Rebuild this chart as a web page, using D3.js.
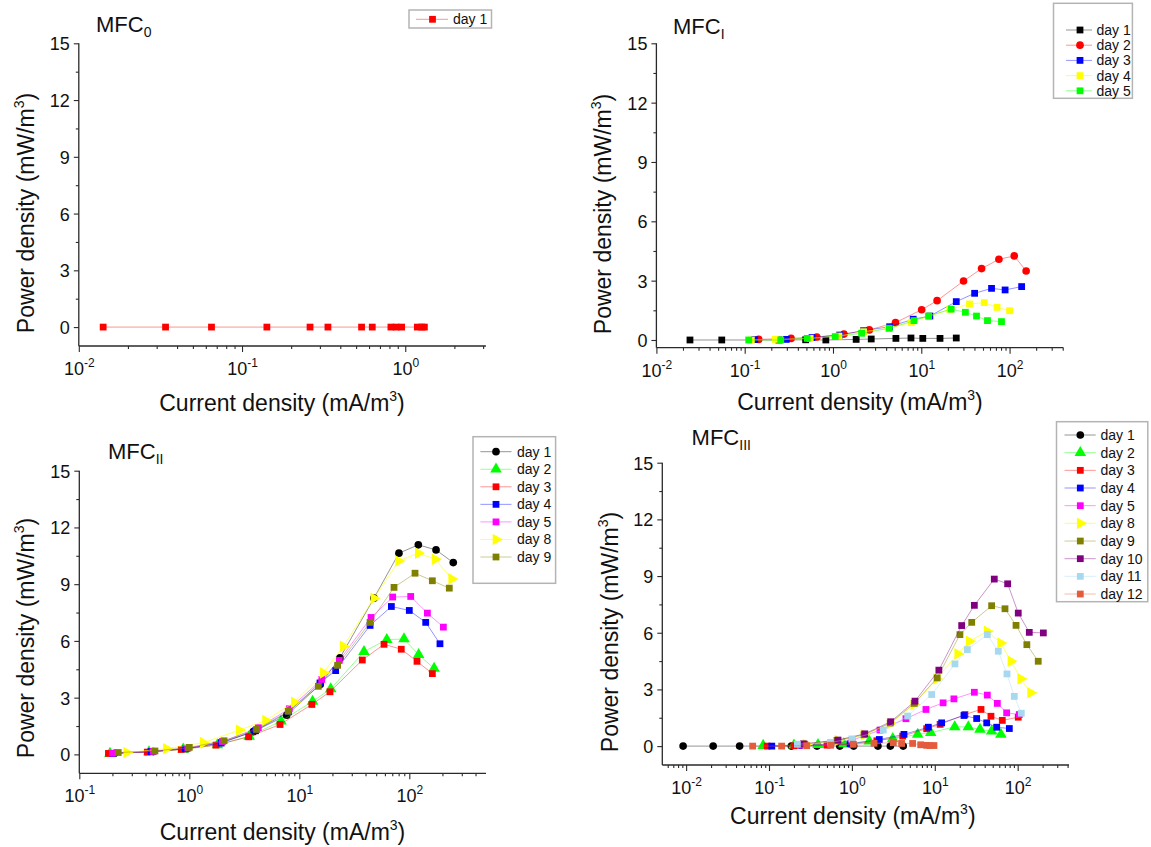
<!DOCTYPE html>
<html><head><meta charset="utf-8">
<script src="https://cdn.jsdelivr.net/npm/d3@7"></script>
<style>
body{margin:0;background:#fff;}
svg text{font-family:"Liberation Sans",Arial,Helvetica,sans-serif;fill:#111;}
</style></head><body>
<svg id="chart" width="1151" height="847"></svg>
<script>
// ---------------- DATA ----------------
const yTickValues = [0, 3, 6, 9, 12, 15];
const yMinorTickValues = [1.5, 4.5, 7.5, 10.5, 13.5];

// MFC0
const mfc0Days = ["day 1"];
const mfc0_day1 = [[0.0141,0],[0.034,0],[0.065,0],[0.142,0],[0.261,0],[0.336,0],[0.54,0],[0.628,0],[0.817,0],[0.879,0],[0.95,0],[1.186,0],[1.262,0],[1.31,0]];

// MFC I
const mfc1Days = ["day 1","day 2","day 3","day 4","day 5"];
const mfc1_day1 = [[0.024,0],[0.055,0],[0.244,0],[0.49,0.01],[0.83,0],[1.83,0.03],[2.71,0.05],[5.16,0.08],[7.64,0.1],[10.4,0.08],[16.3,0.08],[24.9,0.1]];
const mfc1_day2 = [[0.144,0.03],[0.335,0.08],[0.656,0.15],[1.33,0.3],[2.58,0.51],[5.11,0.88],[10.1,1.53],[15.1,1.99],[30.1,2.98],[48.2,3.61],[75.7,4.08],[113,4.25],[154,3.49]];
const mfc1_day3 = [[0.13,0.02],[0.296,0.03],[0.579,0.12],[1.19,0.25],[2.22,0.47],[4.38,0.67],[8.1,1.05],[12.5,1.21],[24.9,1.94],[40.2,2.36],[62.5,2.61],[89,2.53],[137,2.7]];
const mfc1_day4 = [[0.119,0],[0.222,0.03],[0.552,0.08],[1.17,0.2],[2.22,0.42],[4.22,0.59],[7.72,0.88],[12,1.2],[21,1.55],[35.2,1.82],[51.6,1.89],[72.1,1.65],[100,1.48]];
const mfc1_day5 = [[0.111,0],[0.256,0],[0.51,0.08],[1.06,0.17],[2.11,0.34],[4.34,0.59],[8.26,0.98],[12.1,1.21],[21.8,1.56],[31.6,1.4],[42.2,1.21],[56.2,0.98],[81,0.93]];

// MFC II
const mfc2Days = ["day 1","day 2","day 3","day 4","day 5","day 8","day 9"];
const mfc2_day1 = [[0.21,0.06],[0.47,0.15],[0.95,0.3],[1.93,0.62],[3.82,1.2],[7.67,2.07],[15.5,3.7],[23.4,5.1],[47.7,8.26],[80.5,10.64],[120.8,11.08],[175,10.81],[251,10.14]];
const mfc2_day2 = [[0.19,0.05],[0.43,0.13],[0.88,0.27],[1.8,0.5],[3.5,0.95],[6.82,1.76],[13.2,2.8],[19.3,3.46],[38.7,5.43],[62.4,6.07],[89.5,6.1],[121.6,5.27],[168,4.54]];
const mfc2_day3 = [[0.184,0.05],[0.415,0.12],[0.845,0.26],[1.75,0.49],[3.46,0.93],[6.68,1.58],[13,2.64],[19,3.31],[37.4,4.99],[58.9,5.82],[84.5,5.56],[117.5,4.92],[162,4.27]];
const mfc2_day4 = [[0.2,0.05],[0.45,0.15],[0.92,0.3],[1.95,0.6],[4.0,1.25],[8.0,2.25],[15.4,3.78],[21.4,4.43],[44,6.82],[68.7,7.82],[100,7.61],[141,6.98],[190,5.85]];
const mfc2_day5 = [[0.2,0.06],[0.47,0.16],[0.97,0.33],[2.0,0.68],[4.24,1.41],[8.11,2.41],[16,3.96],[23.1,4.97],[44.9,7.24],[70.6,8.32],[103,8.35],[146,7.47],[204,6.73]];
const mfc2_day8 = [[0.27,0.1],[0.62,0.3],[1.34,0.62],[2.85,1.28],[4.94,1.79],[9.02,2.76],[16.5,4.31],[25.1,5.71],[47.7,8.26],[80.1,10.23],[120.8,10.64],[172,10.32],[243,9.28]];
const mfc2_day9 = [[0.226,0.1],[0.487,0.18],[1.0,0.37],[2.07,0.72],[4.09,1.32],[7.94,2.28],[14.9,3.6],[22.3,4.71],[44,6.98],[72.6,8.83],[112.7,9.58],[162,9.18],[231,8.79]];

// MFC III
const mfc3Days = ["day 1","day 2","day 3","day 4","day 5","day 8","day 9","day 10","day 11","day 12"];
const mfc3_day1 = [[0.0092,0],[0.0212,0],[0.0442,0],[0.186,0],[0.379,0],[0.714,0],[1.05,0],[2.06,0],[2.91,0],[4.16,0]];
const mfc3_day2 = [[0.085,0.03],[0.2,0.05],[0.39,0.07],[0.8,0.12],[1.62,0.26],[3.11,0.39],[6.22,0.62],[8.93,0.71],[17.4,1.02],[25.4,1.02],[35.1,0.88],[48.5,0.79],[62.8,0.62]];
const mfc3_day3 = [[0.095,0],[0.2,0.02],[0.5,0.05],[1.0,0.1],[2.0,0.28],[4.1,0.53],[7.98,0.92],[11.6,1.15],[23.1,1.67],[36.1,1.94],[47.6,1.58],[65.2,1.36],[101.6,1.53]];
const mfc3_day4 = [[0.108,0],[0.25,0.03],[0.55,0.07],[0.95,0.12],[2.14,0.35],[4.25,0.62],[8.36,1.0],[12.1,1.23],[22.5,1.62],[32,1.46],[42.3,1.23],[55.8,1.0],[79.3,0.93]];
const mfc3_day5 = [[0.24,0.05],[0.55,0.1],[1.0,0.3],[2.18,0.85],[4.49,1.45],[7.82,1.94],[12.6,2.29],[17,2.5],[30,2.85],[43,2.7],[56.8,2.26],[73.6,1.76],[104.5,1.67]];
const mfc3_day8 = [[0.28,0.1],[0.68,0.3],[1.4,0.6],[2.9,1.2],[5.6,2.2],[10.5,3.55],[18.9,4.88],[26.1,5.55],[43,6.08],[62.4,5.46],[83,4.49],[109,3.56],[143.5,2.82]];
const mfc3_day9 = [[0.27,0.1],[0.66,0.3],[1.4,0.6],[2.9,1.22],[5.66,2.26],[10.7,3.61],[20.1,5.9],[27.9,6.55],[48.5,7.43],[70.3,7.27],[95.5,6.39],[129,5.37],[177,4.49]];
const mfc3_day10 = [[0.26,0.12],[0.68,0.32],[1.43,0.65],[2.94,1.29],[5.77,2.38],[11.2,4.02],[21.1,6.38],[30,7.45],[52.2,8.84],[75.7,8.59],[101.6,7.04],[138,6.02],[204,5.99]];
const mfc3_day11 = [[0.22,0.1],[0.55,0.2],[1.0,0.38],[2.39,0.85],[4.71,1.59],[9.18,2.73],[17.5,4.35],[24.7,5.11],[43,5.9],[58.3,5.02],[74.3,3.82],[91,2.63],[110.6,1.74]];
const mfc3_day12 = [[0.0635,0],[0.142,0],[0.285,0.02],[0.555,0.05],[1.04,0.1],[1.85,0.15],[3.16,0.18],[3.98,0.14],[5.4,0.14],[6.76,0.07],[7.98,0.04],[8.75,0.03],[9.77,0.03]];

// ---------------- STYLES ----------------
const C = {black:"#000000", red:"#ff0000", blue:"#0000ff", yellow:"#ffff00", green:"#00ff00",
  magenta:"#ff00ff", olive:"#808000", purple:"#800080", lightblue:"#a6d8f0", orange:"#e45c3c"};

const panels = [
  { title:"MFC", sub:"0", titleX:96, titleY:32,
    xDomain:[0.01, 3.12], xRange:[78.8, 485.9], yDomain:[-1,15], yRange:[346, 43.3],
    xMajor:[0.01,0.1,1], xTitleX:282, xTitleY:411, yTitleX:34, yTitleY:213,
    series:[{name:mfc0Days[0], data:mfc0_day1, color:C.red, shape:"square"}],
    legend:{box:[409,10,491.5,28], rowY:19.3, step:0, lx0:416, lx1:448, mx:432.5, tx:453}
  },
  { title:"MFC", sub:"I", titleX:673, titleY:34,
    xDomain:[0.01, 407], xRange:[656.4, 1063.4], yDomain:[-0.39,15], yRange:[347.7, 43.3],
    xMajor:[0.01,0.1,1,10,100], xTitleX:860, xTitleY:410, yTitleX:611, yTitleY:214,
    series:[
      {name:mfc1Days[0], data:mfc1_day1, color:C.black, shape:"square"},
      {name:mfc1Days[1], data:mfc1_day2, color:C.red, shape:"circle"},
      {name:mfc1Days[2], data:mfc1_day3, color:C.blue, shape:"square"},
      {name:mfc1Days[3], data:mfc1_day4, color:C.yellow, shape:"square"},
      {name:mfc1Days[4], data:mfc1_day5, color:C.green, shape:"square"}],
    legend:{box:[1053.5,3.3,1132.4,98.3], rowY:30, step:15.2, lx0:1066, lx1:1092, mx:1080, tx:1096.5}
  },
  { title:"MFC", sub:"II", titleX:108, titleY:459,
    xDomain:[0.1, 498], xRange:[79.3, 486], yDomain:[-1,15], yRange:[773.3, 470.7],
    xMajor:[0.1,1,10,100], xTitleX:282.5, xTitleY:840, yTitleX:34, yTitleY:638,
    series:[
      {name:mfc2Days[0], data:mfc2_day1, color:C.black, shape:"circle"},
      {name:mfc2Days[1], data:mfc2_day2, color:C.green, shape:"triangle"},
      {name:mfc2Days[2], data:mfc2_day3, color:C.red, shape:"square"},
      {name:mfc2Days[3], data:mfc2_day4, color:C.blue, shape:"square"},
      {name:mfc2Days[4], data:mfc2_day5, color:C.magenta, shape:"square"},
      {name:mfc2Days[5], data:mfc2_day8, color:C.yellow, shape:"rtriangle"},
      {name:mfc2Days[6], data:mfc2_day9, color:C.olive, shape:"square"}],
    legend:{box:[473,436.7,555.6,583.3], rowY:451.7, step:17.55, lx0:480.4, lx1:511.5, mx:496, tx:517}
  },
  { title:"MFC", sub:"III", titleX:691.6, titleY:445,
    xDomain:[0.00516, 416], xRange:[662.3, 1069], yDomain:[-1,15], yRange:[765, 462.7],
    xMajor:[0.01,0.1,1,10,100], xTitleX:852.8, xTitleY:824, yTitleX:617.5, yTitleY:632,
    series:[
      {name:mfc3Days[0], data:mfc3_day1, color:C.black, shape:"circle"},
      {name:mfc3Days[1], data:mfc3_day2, color:C.green, shape:"triangle"},
      {name:mfc3Days[2], data:mfc3_day3, color:C.red, shape:"square"},
      {name:mfc3Days[3], data:mfc3_day4, color:C.blue, shape:"square"},
      {name:mfc3Days[4], data:mfc3_day5, color:C.magenta, shape:"square"},
      {name:mfc3Days[5], data:mfc3_day8, color:C.yellow, shape:"rtriangle"},
      {name:mfc3Days[6], data:mfc3_day9, color:C.olive, shape:"square"},
      {name:mfc3Days[7], data:mfc3_day10, color:C.purple, shape:"square"},
      {name:mfc3Days[8], data:mfc3_day11, color:C.lightblue, shape:"square"},
      {name:mfc3Days[9], data:mfc3_day12, color:C.orange, shape:"square"}],
    legend:{box:[1056.5,421.7,1147.8,601.7], rowY:435, step:17.67, lx0:1064.5, lx1:1095.7, mx:1080.3, tx:1100.5}
  }
];

const svg = d3.select("#chart");
const AXIS_COLOR = "#2a2a2a";

function symbolPath(shape){
  if (shape === "circle") return d3.symbol(d3.symbolCircle, 46)();
  if (shape === "triangle" || shape === "rtriangle") return d3.symbol(d3.symbolTriangle, 58)();
  return d3.symbol(d3.symbolSquare, 46)();
}
function markerTransform(shape, px, py){
  return shape === "rtriangle" ? `translate(${px},${py}) rotate(90)` : `translate(${px},${py})`;
}

function styleAxis(sel){
  sel.select(".domain").attr("stroke", AXIS_COLOR).attr("stroke-width", 1.3);
  sel.selectAll(".tick line").attr("stroke", AXIS_COLOR).attr("stroke-width", 1.1);
}

function drawPanel(p){
  const g = svg.append("g");
  const x = d3.scaleLog().domain(p.xDomain).range(p.xRange);
  const y = d3.scaleLinear().domain(p.yDomain).range(p.yRange);
  const yBase = p.yRange[0], xBase = p.xRange[0];

  // minor x ticks
  const minor = [];
  for (let e = -3; e <= 3; e++) for (let m = 2; m <= 9; m++) {
    const v = m * Math.pow(10, e);
    if (v >= p.xDomain[0] && v <= p.xDomain[1]) minor.push(v);
  }
  const gxm = g.append("g").attr("transform", `translate(0,${yBase})`)
    .call(d3.axisBottom(x).tickValues(minor).tickSize(3).tickSizeOuter(0).tickFormat(""));
  styleAxis(gxm);
  const gx = g.append("g").attr("transform", `translate(0,${yBase})`)
    .call(d3.axisBottom(x).tickValues(p.xMajor).tickSize(6).tickSizeOuter(0).tickFormat(() => "10"));
  styleAxis(gx);
  gx.selectAll(".tick text").each(function(d){
    const t = d3.select(this);
    t.attr("y", 29).attr("dy", null).attr("font-size", 18).attr("fill", "#111");
    t.append("tspan").attr("dy", -8).attr("font-size", 12).text(String(Math.round(Math.log10(d))));
  });

  // y axis
  const gym = g.append("g").attr("transform", `translate(${xBase},0)`)
    .call(d3.axisLeft(y).tickValues(yMinorTickValues).tickSize(3).tickSizeOuter(0).tickFormat(""));
  styleAxis(gym);
  const gy = g.append("g").attr("transform", `translate(${xBase},0)`)
    .call(d3.axisLeft(y).tickValues(yTickValues).tickSize(5).tickPadding(4).tickSizeOuter(0));
  styleAxis(gy);
  gy.selectAll(".tick text").attr("font-size", 18).attr("fill", "#111").attr("dy", "0.36em");
  // extend y domain line exactly from top to bottom
  gy.select(".domain").attr("d", `M0,${p.yRange[1]}V${p.yRange[0]}`);
  gym.select(".domain").remove();
  gx.select(".domain").attr("d", `M${p.xRange[0]},0H${p.xRange[1]}`);
  gxm.select(".domain").remove();

  // series
  const line = d3.line().x(d => x(d[0])).y(d => y(d[1]));
  p.series.forEach(s => {
    g.append("path").datum(s.data).attr("d", line)
      .attr("fill", "none").attr("stroke", s.color)
      .attr("stroke-opacity", s.color === C.yellow ? 0.6 : 0.42).attr("stroke-width", 1);
    g.append("g").selectAll("path").data(s.data).join("path")
      .attr("d", symbolPath(s.shape))
      .attr("transform", d => markerTransform(s.shape, x(d[0]), y(d[1])))
      .attr("fill", s.color);
  });

  // title
  const tt = g.append("text").attr("x", p.titleX).attr("y", p.titleY).attr("font-size", 22).text(p.title);
  tt.append("tspan").attr("dy", 5).attr("font-size", 14).text(p.sub);

  // x title
  const xt = g.append("text").attr("x", p.xTitleX).attr("y", p.xTitleY)
    .attr("text-anchor", "middle").attr("font-size", 23).text("Current density (mA/m");
  xt.append("tspan").attr("dy", -10).attr("font-size", 14).text("3");
  xt.append("tspan").attr("dy", 10).text(")");

  // y title
  const yt = g.append("text").attr("transform", `translate(${p.yTitleX},${p.yTitleY}) rotate(-90)`)
    .attr("text-anchor", "middle").attr("font-size", 23).text("Power density (mW/m");
  yt.append("tspan").attr("dy", -10).attr("font-size", 14).text("3");
  yt.append("tspan").attr("dy", 10).text(")");

  // legend
  const L = p.legend;
  const lg = g.append("g");
  lg.append("rect").attr("x", L.box[0]).attr("y", L.box[1])
    .attr("width", L.box[2] - L.box[0]).attr("height", L.box[3] - L.box[1])
    .attr("fill", "#fff").attr("stroke", "#b4b4b4").attr("stroke-width", 1.5);
  p.series.forEach((s, i) => {
    const ry = L.rowY + i * L.step;
    lg.append("line").attr("x1", L.lx0).attr("x2", L.lx1).attr("y1", ry).attr("y2", ry)
      .attr("stroke", s.color).attr("stroke-opacity", s.color === C.yellow ? 0.6 : 0.42).attr("stroke-width", 1);
    lg.append("path").attr("d", symbolPath(s.shape)).attr("transform", markerTransform(s.shape, L.mx, ry)).attr("fill", s.color);
    lg.append("text").attr("x", L.tx).attr("y", ry).attr("dy", "0.36em").attr("font-size", 14).text(s.name);
  });
}

panels.forEach(drawPanel);
</script>
</body></html>
